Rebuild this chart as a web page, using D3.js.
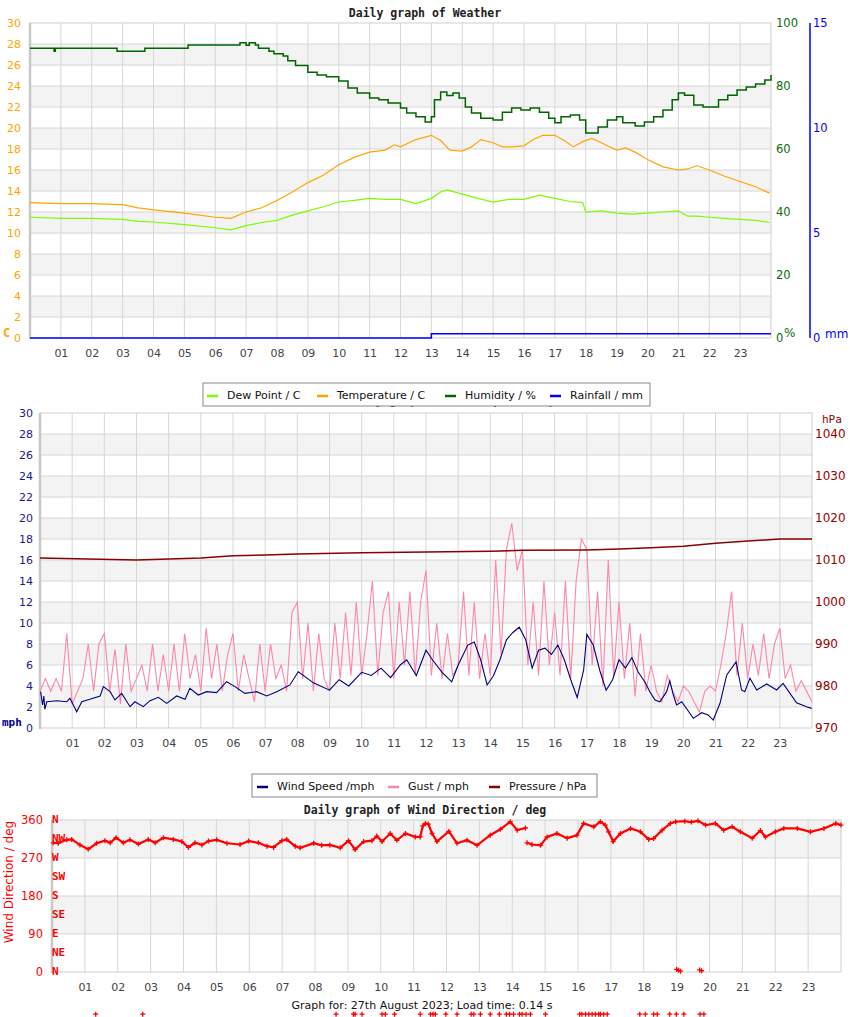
<!DOCTYPE html>
<html>
<head>
<meta charset="utf-8">
<script src="https://cdn.jsdelivr.net/npm/d3@7"></script>
<style>
body { margin: 0; background: #fff; }
svg { display: block; }
text { font-family: "DejaVu Sans", sans-serif; }
</style>
</head>
<body>
<script>
// ---- data (hours of the day) ----
const hourTicks = d3.range(1, 24);

const tempHours = [0,1,2,3,3.5,4,5,6,6.5,7,7.5,8,8.5,9,9.5,10,10.5,11,11.5,11.8,12,12.5,13,13.3,13.6,14,14.3,14.6,15,15.3,15.6,16,16.3,16.6,17,17.3,17.6,17.9,18.2,18.5,19,19.3,19.6,20,20.5,21,21.3,21.6,22,22.5,23,23.5,23.95];
const tempValues = [12.9,12.8,12.8,12.7,12.4,12.2,11.9,11.5,11.4,12.0,12.4,13.1,13.9,14.8,15.5,16.5,17.2,17.7,17.9,18.4,18.2,18.9,19.3,18.8,17.9,17.8,18.2,18.9,18.6,18.2,18.2,18.3,18.9,19.3,19.3,18.8,18.2,18.7,19.0,18.6,17.9,18.1,17.7,17.0,16.3,16.0,16.1,16.4,16.0,15.4,14.9,14.4,13.8];

const dewHours = [0,1,2,3,3.5,4,5,6,6.5,7,7.5,8,8.5,9,9.5,10,10.5,11,11.5,12,12.5,13,13.3,13.5,14,14.5,15,15.5,16,16.5,17,17.5,17.9,18,18.5,19,19.5,20,20.5,21,21.3,21.6,22,22.5,23,23.5,23.95];
const dewValues = [11.5,11.4,11.4,11.3,11.1,11.05,10.8,10.5,10.3,10.7,11.0,11.2,11.7,12.1,12.5,12.95,13.1,13.3,13.2,13.2,12.8,13.3,13.9,14.1,13.7,13.3,12.95,13.2,13.2,13.6,13.3,13.0,12.9,12.0,12.1,11.9,11.8,11.9,12.0,12.1,11.6,11.6,11.5,11.4,11.3,11.2,11.0];

const humHours = [0,0.78,0.82,2.82,3.72,5.12,6.8,7.0,7.1,7.3,7.4,7.74,7.9,8.2,8.35,8.6,9.0,9.3,9.6,10.0,10.3,10.6,11.0,11.3,11.6,12.0,12.2,12.5,12.8,13.0,13.1,13.3,13.5,13.7,13.9,14.1,14.3,14.6,15.0,15.3,15.6,15.9,16.2,16.5,16.8,17.0,17.2,17.5,17.8,18.0,18.2,18.4,18.7,19.0,19.2,19.6,19.9,20.2,20.5,20.8,21.0,21.2,21.5,21.8,22.1,22.3,22.6,22.9,23.2,23.5,23.8,24];
const humValues = [92,91,92,91,92,93,93.7,92.9,93.7,93,92,91,90.2,89.5,88,86.5,84.4,83.5,82.9,81.6,79.4,77.8,76.2,75.6,74.6,73,71.4,70.2,68.6,70.2,75.6,78.1,77,77.8,76.2,73.3,71.4,69.8,69.2,71.7,73,72.4,73,71.7,69.8,68.3,70.2,70.8,69.2,65.1,65.1,67,69.2,70.2,68.3,67.3,68.6,70.2,72.4,75.6,77.8,77.1,74,73.3,73.3,75.6,77.1,78.7,79.7,80.6,81.9,83.5];

const rainHours = [0, 13.0, 24];
const rainValues = [0, 0.2, 0.2];

const speedHours = [0.02,0.08,0.12,0.15,0.21,0.52,0.83,0.93,1.14,1.3,1.55,1.87,1.97,2.18,2.33,2.54,2.8,2.95,3.21,3.42,3.68,3.94,4.25,4.51,4.66,4.92,5.18,5.49,5.8,6.06,6.37,6.73,7.05,7.36,7.77,8.03,8.5,9.0,9.3,9.6,10.0,10.3,10.6,10.9,11.2,11.4,11.7,12.0,12.2,12.5,12.8,13.0,13.3,13.5,13.7,13.9,14.1,14.3,14.5,14.7,14.9,15.1,15.3,15.5,15.7,15.9,16.1,16.3,16.5,16.7,16.9,17.0,17.2,17.4,17.6,17.8,18.0,18.2,18.4,18.6,18.8,18.96,19.12,19.27,19.48,19.58,19.69,19.79,19.95,20.31,20.57,20.77,20.93,21.14,21.35,21.64,21.81,21.91,22.07,22.28,22.59,22.9,23.1,23.52,23.83,23.99];
const speedValues = [3.46,2.19,3.05,1.78,2.5,2.6,2.5,2.83,1.55,2.5,2.73,3.05,3.94,3.46,2.67,3.3,2.03,2.5,2.03,2.6,2.92,2.35,3.05,2.73,3.78,3.14,3.46,3.37,4.41,3.94,3.3,3.46,3.05,3.46,4.1,5.36,4.3,3.6,4.6,4.0,5.3,5.0,5.7,4.8,6.0,6.5,5.0,7.4,6.5,5.3,4.4,6.0,7.9,8.2,6.5,4.1,5.0,6.5,8.4,9.1,9.6,8.4,5.7,7.4,7.6,7.0,7.9,6.5,4.6,2.9,5.5,8.9,7.9,5.5,3.6,4.6,6.5,5.7,6.7,5.3,4.4,3.46,2.67,2.5,3.46,4.5,3.14,2.19,2.5,0.92,1.46,1.24,0.76,2.35,5.05,6.3,3.62,3.46,4.73,3.62,4.19,3.62,4.25,2.41,2.03,1.87];

// gust readings every 10 minutes, one row per hour
const gustValues = [
  3.5, 4.7, 3.5, 4.7, 3.5, 9.0,
  2.3, 3.5, 4.7, 8.0, 3.5, 8.0,
  9.0, 3.5, 7.5, 2.3, 8.0, 3.5,
  4.7, 6.0, 3.5, 8.0, 3.5, 7.0,
  3.5, 8.0, 3.5, 9.0, 4.7, 7.0,
  3.5, 9.5, 4.7, 8.0, 3.5, 7.0,
  9.0, 3.5, 7.0, 4.7, 2.5, 8.0,
  3.5, 8.0, 4.7, 6.0, 3.5, 11.0,
  12.0, 4.7, 10.0, 3.5, 9.0, 4.7,
  3.5, 10.0, 4.7, 11.0, 5.0, 12.0,
  5.0, 9.0, 14.0, 5.0, 11.0, 13.0,
  4.7, 12.0, 6.0, 13.0, 5.0, 12.0,
  15.0, 5.0, 10.0, 4.7, 9.0, 5.0,
  6.0, 13.0, 5.0, 12.0, 4.7, 9.0,
  5.0, 16.0, 7.0, 17.0, 19.5, 15.0,
  17.0, 6.0, 12.0, 5.0, 14.0, 6.0,
  11.0, 5.0, 14.0, 4.7, 14.0, 18.0,
  17.0, 6.0, 13.0, 4.0, 16.0, 5.0,
  12.0, 4.7, 10.0, 3.0, 9.0, 3.5,
  6.0, 3.5, 2.5, 5.0, 3.5, 2.5,
  4.0, 3.5, 2.5, 1.5, 3.5, 4.0,
  3.5, 6.0, 9.0, 13.0, 5.0, 10.0,
  4.7, 8.0, 5.0, 9.0, 4.7, 8.0,
  9.5, 4.7, 6.0, 3.5, 4.5, 3.5,
  2.5
];

const pressHours = [0,3,5,6,7,8,10,12,14,15,17,18,19,20,21,22,23,24];
const pressValues = [1010.5,1010,1010.5,1011,1011.2,1011.4,1011.7,1011.9,1012.1,1012.3,1012.4,1012.6,1012.9,1013.3,1014,1014.5,1015,1015];

const dirHours = [0.04,0.19,0.45,0.6,0.85,1.1,1.36,1.61,1.77,1.95,2.17,2.37,2.63,2.93,3.14,3.39,3.69,3.95,4.15,4.35,4.56,4.76,5.01,5.32,5.72,5.98,6.28,6.54,6.74,6.99,7.14,7.4,7.55,7.96,8.2,8.45,8.77,9.02,9.22,9.48,9.73,9.88,10.04,10.29,10.49,10.75,11.05,11.2,11.28,11.36,11.45,11.56,11.71,12.07,12.32,12.62,12.93,13.33,13.64,13.94,14.15,14.4,14.45,14.6,14.86,15.06,15.36,15.67,15.97,16.17,16.48,16.68,16.83,16.93,17.07,17.29,17.6,17.9,18.15,18.3,18.56,18.81,18.97,19.25,19.45,19.65,19.88,20.18,20.43,20.69,20.94,21.3,21.55,21.7,22.0,22.26,22.67,23.07,23.48,23.84,24.0];
const dirValues = [306,305,313,314,301,291,305,311,306,318,306,313,303,314,306,318,314,309,295,306,301,310,313,305,302,310,306,298,295,311,314,298,294,305,300,301,294,311,290,309,311,322,309,328,312,328,320,320,346,352,350,328,309,333,305,312,300,324,338,356,336,341,306,302,300,320,328,317,324,352,344,356,348,332,309,328,340,332,314,316,336,352,356,357,355,358,348,352,336,344,332,317,335,320,332,340,340,332,340,352,348];
// readings that wrapped through north, next to the 0 line
const dirLowHours = [19.0, 19.06, 19.12, 19.7, 19.76];
const dirLowValues = [6, 4, 2, 5, 3];
// stray markers drawn well below the axis
const strayHours = [1.33,2.76,8.64,9.17,9.22,9.43,10.04,10.14,10.42,11.2,11.51,11.59,11.66,11.98,12.32,12.75,12.83,13.03,13.33,13.61,13.82,13.92,14.04,14.22,14.3,14.42,14.55,15.01,16.05,16.12,16.23,16.33,16.43,16.53,16.63,16.68,16.78,16.89,17.88,18.05,18.3,18.41,18.79,18.99,19.22,19.71,19.83];
const strayValue = -100;

// ---- drawing ----
const svg = d3.select("body").append("svg").attr("width", 850).attr("height", 1017);

const bandFill = "#f3f3f3", gridCol = "#d6d6d6", borderCol = "#cfcfcf";

function frame(x, y, bands, lines) {
    const g = svg.append("g");
    const [x0, x1] = x.range();
    const [yb, yt] = y.range();
    bands.forEach(b => {
        g.append("rect").attr("x", x0).attr("width", x1 - x0)
            .attr("y", y(b[1])).attr("height", y(b[0]) - y(b[1])).attr("fill", bandFill);
    });
    g.selectAll(null).data(lines).join("line")
        .attr("x1", x0).attr("x2", x1).attr("y1", d => y(d)).attr("y2", d => y(d))
        .attr("stroke", gridCol);
    g.selectAll(null).data(hourTicks).join("line")
        .attr("x1", d => x(d)).attr("x2", d => x(d)).attr("y1", yt).attr("y2", yb)
        .attr("stroke", gridCol);
    g.append("rect").attr("x", x0).attr("y", yt).attr("width", x1 - x0).attr("height", yb - yt)
        .attr("fill", "none").attr("stroke", borderCol);
    g.append("line").attr("x1", x0).attr("x2", x0).attr("y1", yt).attr("y2", yb + 1)
        .attr("stroke", "#c8c8c8").attr("stroke-width", 2.5);
    // hour labels
    svg.append("g").attr("transform", "translate(0," + yb + ")")
        .call(d3.axisBottom(x).tickValues(hourTicks).tickFormat(d3.format("02d")).tickSize(0).tickPadding(11))
        .call(a => a.select(".domain").remove())
        .selectAll("text").attr("fill", "#444").style("font-size", "11px").style("font-family", "DejaVu Sans");
}

function yLabels(axis, xPos, color, size) {
    svg.append("g").attr("transform", "translate(" + xPos + ",0)")
        .call(axis.tickSize(0))
        .call(a => a.select(".domain").remove())
        .selectAll("text").attr("fill", color).style("font-size", (size || 11) + "px").style("font-family", "DejaVu Sans");
}

function title(txt, x, y, anchor) {
    svg.append("text").attr("x", x).attr("y", y).attr("text-anchor", anchor || "middle")
        .style("font-family", "DejaVu Sans Mono").style("font-weight", "bold").style("font-size", "11.5px")
        .attr("fill", "#222").text(txt);
}

function legend(x, y, w, items) {
    const g = svg.append("g");
    g.append("rect").attr("x", x).attr("y", y).attr("width", w).attr("height", 23)
        .attr("fill", "#fff").attr("stroke", "#888");
    items.forEach(it => {
        g.append("line").attr("x1", it.x).attr("x2", it.x + 11).attr("y1", y + 13).attr("y2", y + 13)
            .attr("stroke", it.color).attr("stroke-width", 2.5);
        g.append("text").attr("x", it.x + 20).attr("y", y + 16).style("font-size", "11px")
            .attr("fill", "#111").text(it.label);
    });
}

const zip = (hs, vs) => hs.map((h, i) => [h, vs[i]]);

// ===== panel 1: weather =====
const x1 = d3.scaleLinear().domain([0, 24]).range([30, 771]);
const yT = d3.scaleLinear().domain([0, 30]).range([338, 23]);
const yH = d3.scaleLinear().domain([0, 100]).range([338, 23]);
const yR = d3.scaleLinear().domain([0, 15]).range([338, 23]);

title("Daily graph of Weather", 425, 17);
frame(x1, yT, d3.range(2, 30, 4).map(v => [v, v + 2]), d3.range(2, 30, 2));

yLabels(d3.axisLeft(yT).tickValues(d3.range(0, 31, 2)).tickPadding(9), 30, "#ffa500");
yLabels(d3.axisRight(yH).tickValues(d3.range(0, 101, 20)).tickPadding(6), 770, "#0d6b0d", 11.5);
svg.append("line").attr("x1", 810).attr("x2", 810).attr("y1", 23).attr("y2", 338)
    .attr("stroke", "#0000ff").attr("stroke-width", 1.5);
yLabels(d3.axisRight(yR).tickValues([0, 5, 10, 15]).tickPadding(3), 810, "#0000ff", 11.5);
svg.append("text").attr("x", 3).attr("y", 337).style("font-family", "DejaVu Sans Mono")
    .style("font-weight", "bold").style("font-size", "12px").attr("fill", "#ffa500").text("C");
svg.append("text").attr("x", 784).attr("y", 337).style("font-size", "12px").attr("fill", "#0d6b0d").text("%");
svg.append("text").attr("x", 825).attr("y", 338).style("font-size", "12px").attr("fill", "#0000ff").text("mm");

const p1 = svg.append("g");
p1.append("path").datum(zip(rainHours, rainValues)).attr("fill", "none").attr("stroke", "#0000ff").attr("stroke-width", 1.5)
    .attr("d", d3.line().x(d => x1(d[0])).y(d => yR(d[1])).curve(d3.curveStepAfter));
p1.append("path").datum(zip(dewHours, dewValues)).attr("fill", "none").attr("stroke", "#7cfc00").attr("stroke-width", 1.2)
    .attr("d", d3.line().x(d => x1(d[0])).y(d => yT(d[1])));
p1.append("path").datum(zip(tempHours, tempValues)).attr("fill", "none").attr("stroke", "#ffa500").attr("stroke-width", 1.2)
    .attr("d", d3.line().x(d => x1(d[0])).y(d => yT(d[1])));
p1.append("path").datum(zip(humHours, humValues)).attr("fill", "none").attr("stroke", "#006400").attr("stroke-width", 1.5)
    .attr("d", d3.line().x(d => x1(d[0])).y(d => yH(d[1])).curve(d3.curveStepAfter));

// ===== panel 2: wind =====
const x2 = d3.scaleLinear().domain([0, 24]).range([40, 812]);
const yS = d3.scaleLinear().domain([0, 30]).range([728, 413]);
const yP = d3.scaleLinear().domain([970, 1045]).range([728, 413]);

title("Daily graph of Wind Speed / mph", 348, 404, "start");
frame(x2, yS, d3.range(2, 30, 4).map(v => [v, v + 2]), d3.range(2, 30, 2));
yLabels(d3.axisLeft(yS).tickValues(d3.range(0, 31, 2)).tickPadding(7), 40, "#1a1a8c");
yLabels(d3.axisRight(yP).tickValues(d3.range(970, 1041, 10)).tickFormat(d3.format("d")).tickPadding(3), 812, "#9a0000", 12);
svg.append("text").attr("x", 2).attr("y", 726).style("font-family", "DejaVu Sans Mono")
    .style("font-weight", "bold").style("font-size", "11px").attr("fill", "#00008b").text("mph");
svg.append("text").attr("x", 822).attr("y", 423).style("font-family", "DejaVu Sans Mono")
    .style("font-size", "11px").attr("fill", "#8b0000").text("hPa");

const p2 = svg.append("g");
p2.append("path").datum(gustValues.map((v, i) => [i / 6, v])).attr("fill", "none").attr("stroke", "#ff85a8").attr("stroke-width", 1.1)
    .attr("d", d3.line().x(d => x2(d[0])).y(d => yS(d[1])));
p2.append("path").datum(zip(speedHours, speedValues)).attr("fill", "none").attr("stroke", "#000080").attr("stroke-width", 1.1)
    .attr("d", d3.line().x(d => x2(d[0])).y(d => yS(d[1])));
p2.append("path").datum(zip(pressHours, pressValues)).attr("fill", "none").attr("stroke", "#8b0000").attr("stroke-width", 1.5)
    .attr("d", d3.line().x(d => x2(d[0])).y(d => yP(d[1])));

legend(203, 383, 447, [
    {x: 207, color: "#7cfc00", label: "Dew Point / C"},
    {x: 317, color: "#ffa500", label: "Temperature / C"},
    {x: 445, color: "#006400", label: "Humidity / %"},
    {x: 550, color: "#0000ff", label: "Rainfall / mm"}
]);
legend(252, 774, 345, [
    {x: 257, color: "#000080", label: "Wind Speed /mph"},
    {x: 388, color: "#ff85a8", label: "Gust / mph"},
    {x: 489, color: "#8b0000", label: "Pressure / hPa"}
]);

// ===== panel 3: wind direction =====
const x3 = d3.scaleLinear().domain([0, 24]).range([52, 841]);
const yD = d3.scaleLinear().domain([0, 360]).range([972, 820]);

title("Daily graph of Wind Direction / deg", 425, 814);
frame(x3, yD, [[90, 180], [270, 360]], [90, 180, 270]);
yLabels(d3.axisLeft(yD).tickValues([0, 90, 180, 270, 360]).tickPadding(9), 52, "#ff0000", 11.5);

const compass = ["N", "NE", "E", "SE", "S", "SW", "W", "NW", "N"];
svg.append("g").selectAll("text").data(compass).join("text")
    .attr("x", 52).attr("y", (d, i) => yD(i * 45) - 1).attr("dy", "0.35em")
    .style("font-family", "DejaVu Sans Mono").style("font-weight", "bold").style("font-size", "11px")
    .attr("fill", "#ff0000").text(d => d);

svg.append("text").attr("transform", "translate(13,882) rotate(-90)").attr("text-anchor", "middle")
    .style("font-size", "12px").attr("fill", "#ff0000").text("Wind Direction / deg");

// split the direction trace where it jumps
const dirPts = zip(dirHours, dirValues);
const segs = [[dirPts[0]]];
for (let i = 1; i < dirPts.length; i++) {
    if (Math.abs(dirPts[i][1] - dirPts[i - 1][1]) > 28 || dirPts[i][0] - dirPts[i - 1][0] > 0.5) segs.push([]);
    segs[segs.length - 1].push(dirPts[i]);
}
const p3 = svg.append("g");
p3.selectAll("path.seg").data(segs).join("path").attr("class", "seg")
    .attr("fill", "none").attr("stroke", "#ff0000").attr("stroke-width", 2.2)
    .attr("d", d3.line().x(d => x3(d[0])).y(d => yD(d[1])));
const cross = "M-2.5,0H2.5M0,-2.5V2.5";
const allMarks = dirPts.concat(zip(dirLowHours, dirLowValues), strayHours.map(h => [h, strayValue]));
p3.selectAll("path.mk").data(allMarks).join("path").attr("class", "mk")
    .attr("transform", d => "translate(" + x3(d[0]) + "," + yD(d[1]) + ")")
    .attr("d", cross).attr("stroke", "#ff0000").attr("stroke-width", 1.3);

svg.append("text").attr("x", 422).attr("y", 1009).attr("text-anchor", "middle")
    .style("font-size", "11px").attr("fill", "#111").text("Graph for: 27th August 2023; Load time: 0.14 s");
</script>
</body>
</html>
